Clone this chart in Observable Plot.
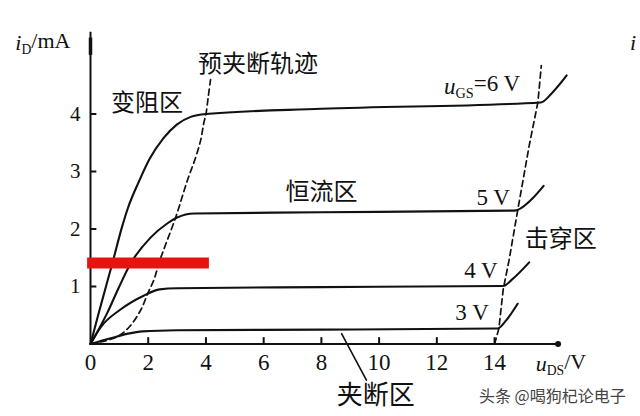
<!DOCTYPE html>
<html>
<head>
<meta charset="utf-8">
<script src="https://cdn.jsdelivr.net/npm/d3@7"></script>
<script src="https://cdn.jsdelivr.net/npm/@observablehq/plot@0.6"></script>
<style>
  html, body { margin: 0; padding: 0; background: #fff; }
  svg { display: block; overflow: visible; }
</style>
</head>
<body>
<div id="chart"></div>
<script>
// ---- data (V_DS in volts, I_D in mA) ----
const xTicks = [0, 2, 4, 6, 8, 10, 12, 14];
const yTicks = [1, 2, 3, 4];

const vgs6 = [[0,0],[0.28,0.53],[0.52,0.97],[0.76,1.41],[1.1,2.05],[1.3,2.37],[1.7,2.85],[2.05,3.22],[2.53,3.58],[3.0,3.82],[3.47,3.95],[4.0,4.0],[8,4.09],[15.6,4.2],[16.0,4.37],[16.5,4.67]];
const vgs5 = [[0,0],[0.59,0.55],[0.97,0.97],[1.39,1.4],[2.08,1.85],[2.67,2.1],[3.0,2.2],[3.6,2.27],[8,2.29],[14.7,2.32],[15.25,2.5],[15.7,2.75]];
const vgs4 = [[0,0],[0.35,0.29],[1.04,0.6],[1.84,0.84],[2.4,0.95],[3.0,0.97],[8,0.99],[14.3,1.01],[14.6,1.12],[15.2,1.42]];
const vgs3 = [[0,0],[0.7,0.1],[1.3,0.18],[1.8,0.22],[3,0.24],[8,0.25],[14.1,0.27],[14.4,0.41],[14.8,0.7]];

const pinchLocus = [[0,0],[0.9,0.12],[1.35,0.3],[1.75,0.6],[2.0,0.9],[2.2,1.12],[2.4,1.45],[2.95,2.2],[3.36,2.85],[3.64,3.24],[3.82,3.55],[3.92,3.83],[4.0,4.0],[4.08,4.3],[4.16,4.6]];
const breakdownLocus = [[14.0,0],[14.15,0.27],[14.3,0.95],[14.5,1.45],[14.8,2.32],[15.2,3.45],[15.5,4.2],[15.62,4.84]];

const cutoffPointer = [[8.7,0.18],[9.56,-0.63]];
const redBar = [{from: -0.1, to: 4.12, level: 1.41}];
const axisEnds = {x: 16.2, y: 5.42};

const zoneLabels = [
  {text: "预夹断轨迹", v: 5.8, i: 4.87},
  {text: "变阻区", v: 1.96, i: 4.19},
  {text: "恒流区", v: 8.0, i: 2.64},
  {text: "击穿区", v: 16.29, i: 1.82}
];
const cutoffLabel = [{text: "夹断区", v: 9.88, i: -0.9}];
const gateLabels = [
  {text: "u_GS=6 V", v: 13.57, i: 4.48},
  {text: "5 V", v: 13.95, i: 2.54},
  {text: "4 V", v: 13.53, i: 1.28},
  {text: "3 V", v: 13.22, i: 0.54}
];
const axisLabels = [
  {text: "i_D/mA", v: -1.65, i: 5.23},
  {text: "u_DS/V", v: 16.3, i: -0.35}
];
const strayLabel = [{text: "i", v: 18.8, i: 5.24}];
const watermark = [{text: "头条 @喝狗杞论电子", v: 16.0, i: -0.92}];

// ---- chart ----
const X = d => d[0], Y = d => d[1];
const ink = "#111";
const cjk = "'Noto Sans CJK SC', sans-serif";
const serif = "'Liberation Serif', 'DejaVu Serif', serif";

const curveOpts = {x: X, y: Y, curve: "monotone-x", stroke: ink, strokeWidth: 2.1};
const dashOpts = {x: X, y: Y, curve: "catmull-rom", stroke: ink, strokeWidth: 1.7, strokeDasharray: "6,4"};

const chart = Plot.plot({
  width: 640,
  height: 416,
  marginLeft: 90,
  marginRight: 30.5,
  marginTop: 4.25,
  marginBottom: 72.5,
  x: {domain: [0, 18]},
  y: {domain: [0, 5.9]},
  style: {background: "#fff", fontFamily: serif, color: ink},
  marks: [
    // axes lines
    Plot.ruleX([0], {y1: 0, y2: axisEnds.y, stroke: ink, strokeWidth: 2}),
    Plot.ruleY([0], {x1: 0, x2: axisEnds.x, stroke: ink, strokeWidth: 2.2}),
    Plot.dot([[axisEnds.x, 0]], {x: X, y: Y, r: 3, fill: ink}),
    Plot.ruleX([0], {y1: axisEnds.y - 0.4, y2: axisEnds.y - 0.1, stroke: ink, strokeWidth: 3.5}),
    // inward ticks
    Plot.ruleY(yTicks, {x1: 0, x2: 0.22, stroke: ink, strokeWidth: 2}),
    Plot.ruleX(xTicks.filter(d => d > 0), {y1: 0, y2: 0.11, stroke: ink, strokeWidth: 2}),
    // tick labels
    Plot.axisX(xTicks, {tickSize: 0, tickPadding: 10, tickFormat: d => String(d), fontSize: 23, fontFamily: serif, fill: ink, label: null}),
    Plot.axisY(yTicks, {tickSize: 0, tickPadding: 10, tickFormat: d => String(d), fontSize: 21, fontFamily: serif, fill: ink, label: null}),
    // characteristic curves
    Plot.line(vgs6, curveOpts),
    Plot.line(vgs5, curveOpts),
    Plot.line(vgs4, curveOpts),
    Plot.line(vgs3, curveOpts),
    // loci
    Plot.line(pinchLocus, dashOpts),
    Plot.line(breakdownLocus, {...dashOpts, curve: "linear"}),
    Plot.line(cutoffPointer, {x: X, y: Y, stroke: ink, strokeWidth: 1.6}),
    // red highlight bar
    Plot.ruleY(redBar, {x1: "from", x2: "to", y: "level", stroke: "#e8130f", strokeWidth: 11}),
    // labels
    Plot.text(zoneLabels, {x: "v", y: "i", text: "text", fontSize: 24, fontFamily: cjk, fill: ink, letterSpacing: "2px"}),
    Plot.text(cutoffLabel, {x: "v", y: "i", text: "text", fontSize: 26, fontFamily: cjk, fill: ink, letterSpacing: "1px"}),
    Plot.text(gateLabels, {x: "v", y: "i", text: "text", fontSize: 23, fontFamily: serif, fill: ink}),
    Plot.text(axisLabels, {x: "v", y: "i", text: "text", fontSize: 22, fontFamily: serif, fill: ink}),
    Plot.text(strayLabel, {x: "v", y: "i", text: "text", fontSize: 22, fontFamily: serif, fontStyle: "italic", fill: ink}),
    Plot.text(watermark, {x: "v", y: "i", text: "text", fontSize: 16, fontFamily: cjk, fill: "#444"})
  ]
});

// subscripts: "u_GS..." -> italic u + subscript GS + rest
const NS = "http://www.w3.org/2000/svg";
for (const t of chart.querySelectorAll("text")) {
  const m = t.textContent.match(/^([a-z])_([A-Z]+)(.*)$/);
  if (!m) continue;
  t.textContent = "";
  const a = document.createElementNS(NS, "tspan");
  a.setAttribute("font-style", "italic");
  a.textContent = m[1];
  const b = document.createElementNS(NS, "tspan");
  b.setAttribute("font-size", "0.62em");
  b.setAttribute("dy", "0.3em");
  b.textContent = m[2];
  const c = document.createElementNS(NS, "tspan");
  c.setAttribute("dy", "-0.3em");
  c.textContent = m[3];
  t.append(a, b, c);
}

document.getElementById("chart").append(chart);
</script>
</body>
</html>
